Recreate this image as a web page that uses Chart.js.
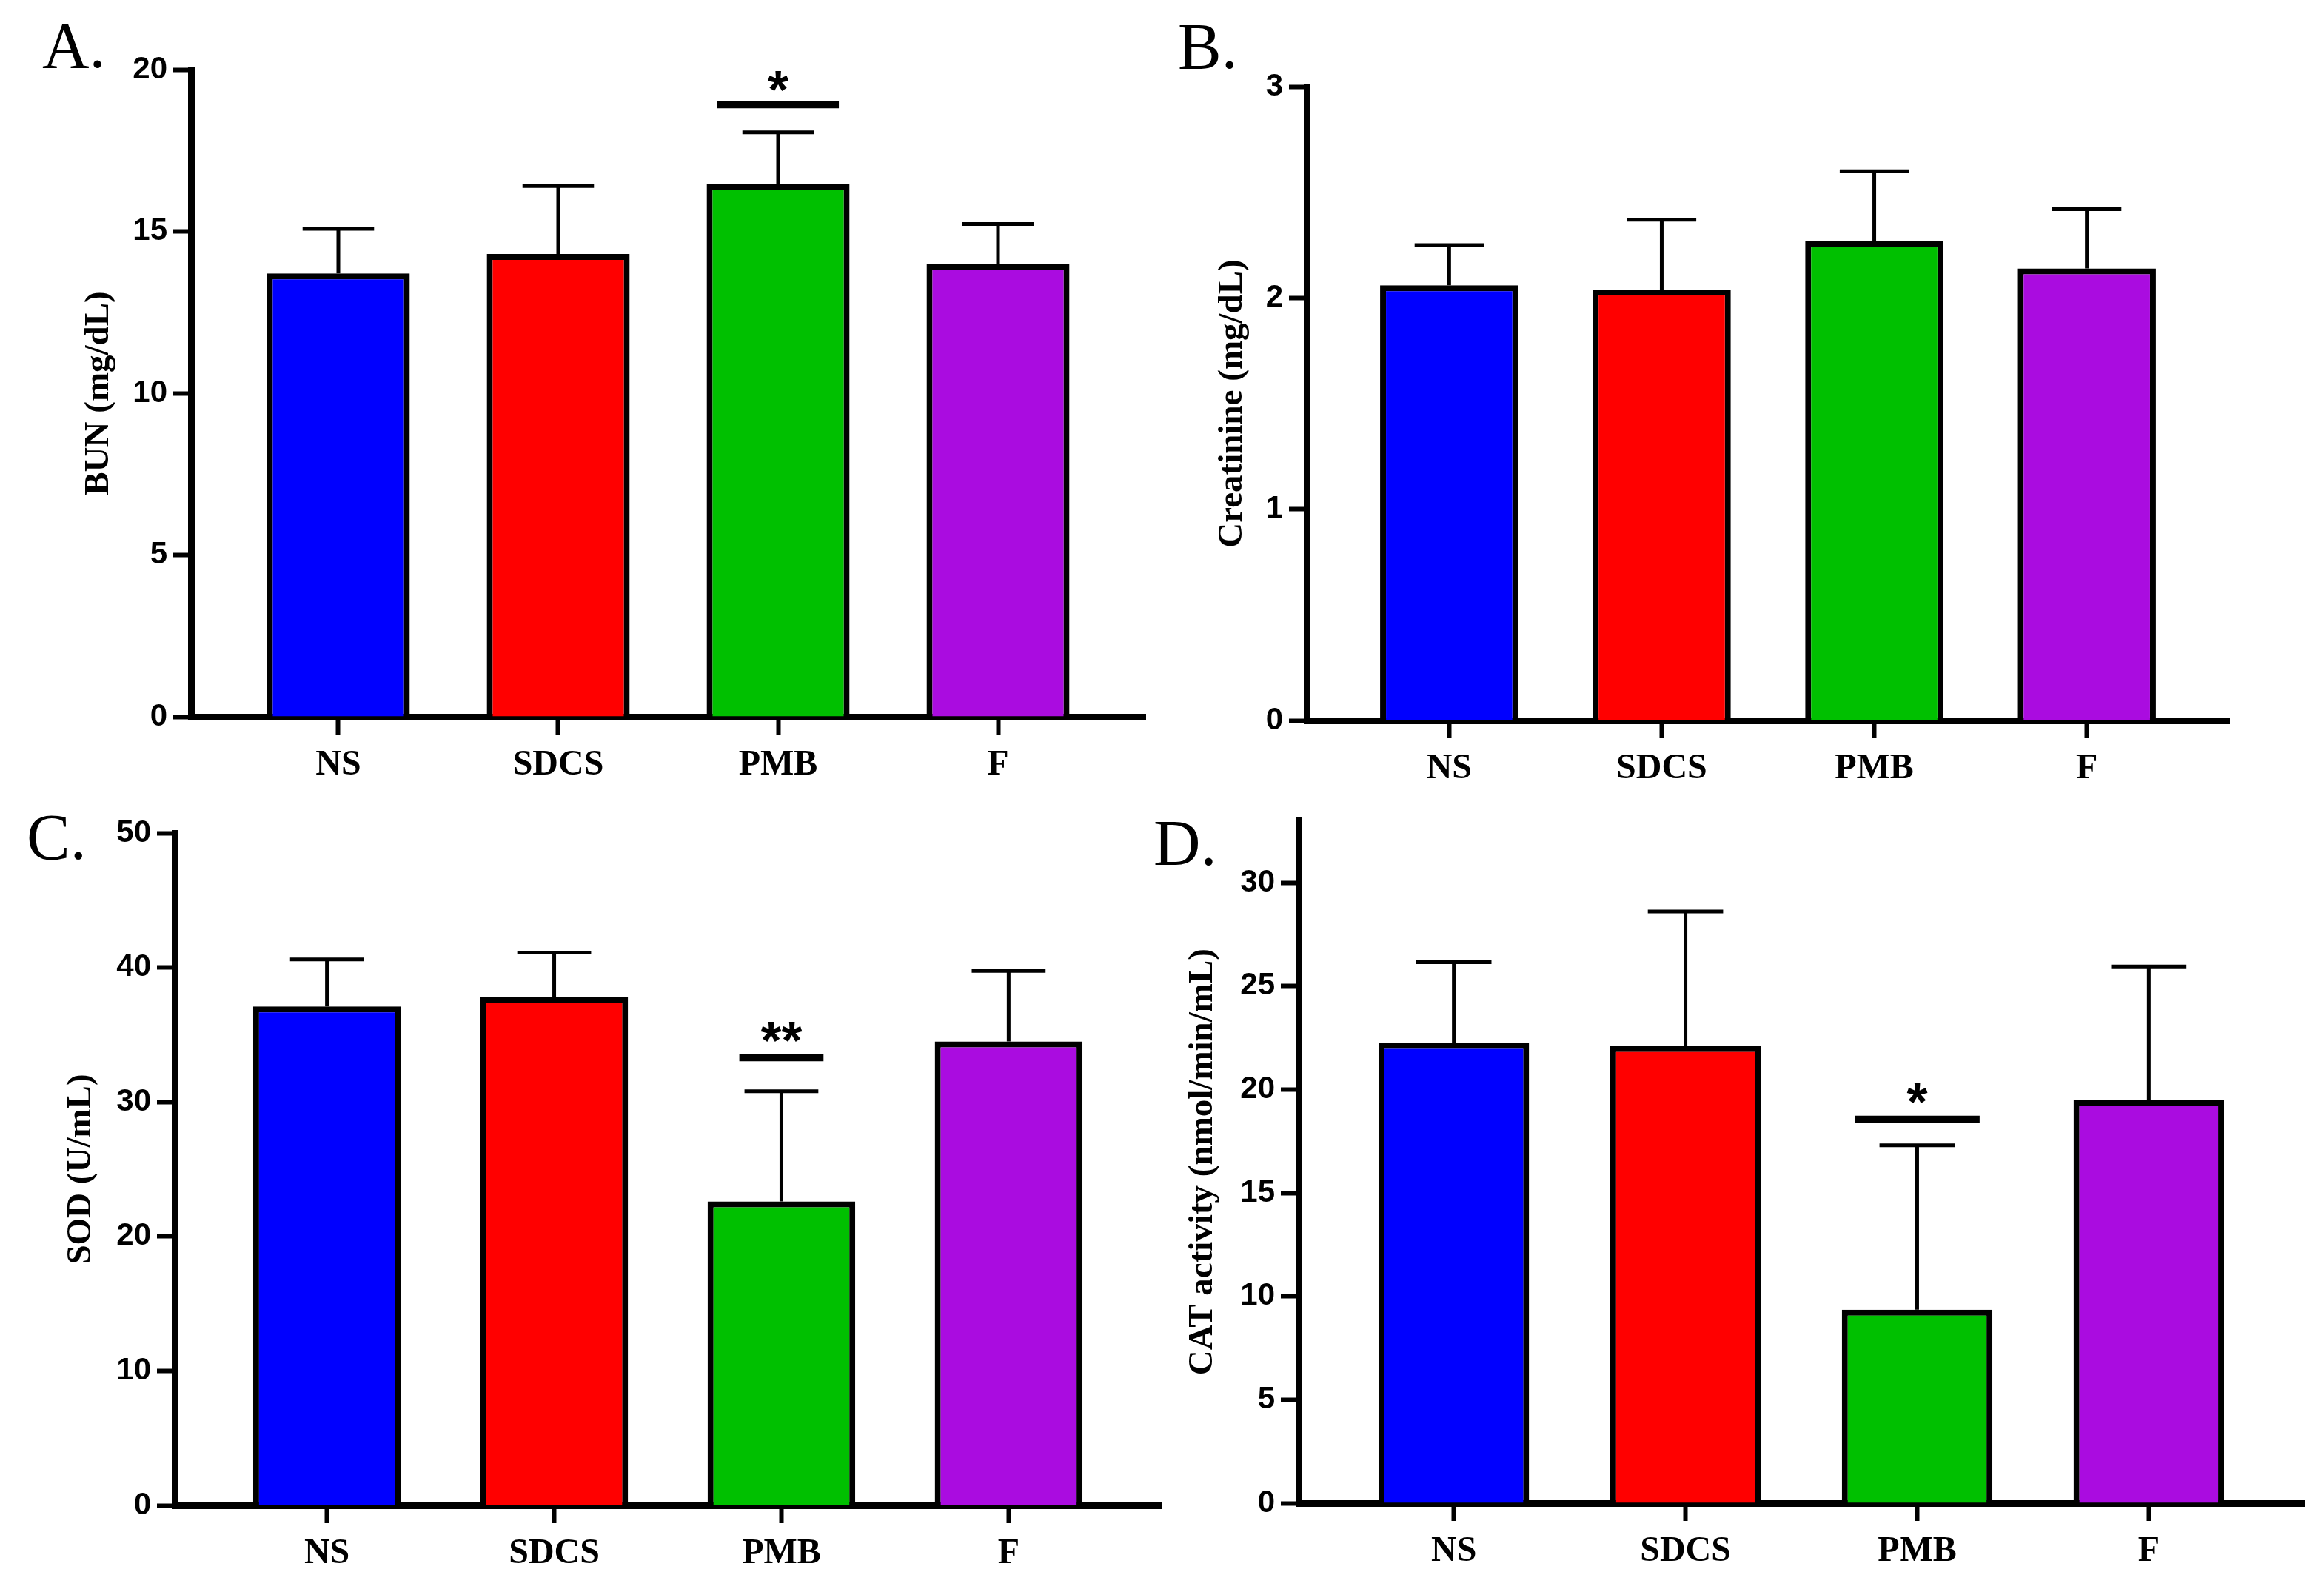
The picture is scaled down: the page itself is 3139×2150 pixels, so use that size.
<!DOCTYPE html>
<html>
<head>
<meta charset="utf-8">
<script src="https://cdn.jsdelivr.net/npm/chart.js@4.4.1/dist/chart.umd.min.js"></script>
<style>
    html, body { margin: 0; padding: 0; background: #fff; }
    #page { position: relative; width: 3139px; height: 2150px; overflow: hidden; background: #fff; }
    #page canvas { position: absolute; }
    .tag { position: absolute; font-family: "Liberation Serif", "Times New Roman", serif; font-size: 88px; line-height: 88px; color: #000; }
</style>
</head>
<body>
<div id="page">
    <canvas id="chartA" width="1570" height="1075" style="left:0;top:0"></canvas>
    <canvas id="chartB" width="1569" height="1075" style="left:1570px;top:0"></canvas>
    <canvas id="chartC" width="1570" height="1075" style="left:0;top:1075px"></canvas>
    <canvas id="chartD" width="1569" height="1075" style="left:1570px;top:1075px"></canvas>
    <div class="tag" style="left:57px;top:18px">A.</div>
    <div class="tag" style="left:1591px;top:19px">B.</div>
    <div class="tag" style="left:36px;top:1087px">C.</div>
    <div class="tag" style="left:1558px;top:1095px">D.</div>
</div>
<script>
// groups and colours shared by all four panels
const groups = ['NS', 'SDCS', 'PMB', 'F'];
const barColors = ['#0000FF', '#FF0000', '#00C000', '#AA0CE0'];

// A - BUN
const bunMean = [13.7, 14.3, 16.46, 14.0];
const bunSD = [1.38, 2.1, 1.6, 1.23];
const bunTicks = [0, 5, 10, 15, 20];
const bunSig = { index: 2, line: 18.92, star: 19.78, text: '*' };

// B - Creatinine
const creMean = [2.06, 2.04, 2.27, 2.14];
const creSD = [0.19, 0.33, 0.33, 0.28];
const creTicks = [0, 1, 2, 3];

// C - SOD
const sodMean = [37.1, 37.8, 22.6, 34.5];
const sodSD = [3.5, 3.3, 8.2, 5.25];
const sodTicks = [0, 10, 20, 30, 40, 50];
const sodSig = { index: 2, line: 33.3, star: 35.5, text: '**' };

// D - CAT activity
const catMean = [22.25, 22.1, 9.35, 19.5];
const catSD = [3.9, 6.5, 7.95, 6.45];
const catTicks = [0, 5, 10, 15, 20, 25, 30];
const catSig = { index: 2, line: 18.55, star: 20.0, text: '*' };

const sansFont = '"Liberation Sans", Arial, Helvetica, sans-serif';
const serifFont = '"Liberation Serif", "Times New Roman", serif';

// error bars (mean + SD, upper only) and significance marks
const errorBarPlugin = {
    id: 'errorBars',
    afterDatasetsDraw(chart, args, opts) {
        const { ctx, scales: { x, y } } = chart;
        const meta = chart.getDatasetMeta(0);
        ctx.save();
        ctx.strokeStyle = '#000';
        ctx.lineCap = 'butt';
        ctx.lineWidth = 5;
        opts.mean.forEach((m, i) => {
            const bar = meta.data[i];
            const cx = x.getPixelForValue(i);
            const yb = y.getPixelForValue(m);
            const yt = y.getPixelForValue(m + opts.sd[i]);
            const half = bar.width / 4;
            ctx.beginPath();
            ctx.moveTo(cx, yb); ctx.lineTo(cx, yt);
            ctx.moveTo(cx - half, yt); ctx.lineTo(cx + half, yt);
            ctx.stroke();
        });
        if (opts.sig) {
            const s = opts.sig;
            const bar = meta.data[s.index];
            const cx = x.getPixelForValue(s.index);
            const half = bar.width * opts.sigRatio / 2;
            const ly = y.getPixelForValue(s.line);
            ctx.lineWidth = 10;
            ctx.beginPath(); ctx.moveTo(cx - half, ly); ctx.lineTo(cx + half, ly); ctx.stroke();
            ctx.fillStyle = '#000';
            ctx.font = 'bold 72px ' + sansFont;
            ctx.textAlign = 'center';
            ctx.textBaseline = 'alphabetic';
            ctx.fillText(s.text, cx, y.getPixelForValue(s.star) + 42);
        }
        ctx.restore();
    }
};

function makeChart(id, p) {
    const canvas = document.getElementById(id);
    const W = canvas.width, H = canvas.height;
    return new Chart(canvas, {
        type: 'bar',
        data: {
            datasets: [{
                data: p.mean.map((v, i) => ({ x: i, y: v })),
                backgroundColor: barColors,
                borderColor: '#000',
                borderWidth: 8,
                borderSkipped: 'start',
                categoryPercentage: 1,
                barPercentage: 0.65
            }]
        },
        options: {
            responsive: false,
            animation: false,
            devicePixelRatio: 1,
            layout: { padding: { left: 0, top: p.area.top, right: W - p.area.right, bottom: 0 } },
            plugins: {
                legend: { display: false },
                tooltip: { enabled: false },
                errorBars: { mean: p.mean, sd: p.sd, sig: p.sig, sigRatio: p.sigRatio }
            },
            scales: {
                x: {
                    type: 'linear', min: -0.67, max: 3.67, offset: false,
                    afterFit: s => { s.height = H - p.area.bottom; },
                    afterBuildTicks: s => { s.ticks = groups.map((g, i) => ({ value: i })); },
                    ticks: { callback: v => groups[v], color: '#000', padding: 13, autoSkip: false, maxRotation: 0,
                             font: { family: serifFont, weight: 'bold', size: 48 } },
                    grid: { offset: false, drawOnChartArea: false, drawTicks: true, tickLength: 24, tickWidth: 6, tickColor: '#000' },
                    border: { display: true, color: '#000', width: 9 }
                },
                y: {
                    min: 0, max: p.max,
                    afterFit: s => { s.width = p.area.left; },
                    afterBuildTicks: s => { s.ticks = p.ticks.map(v => ({ value: v })); },
                    ticks: { color: '#000', padding: 8, autoSkip: false,
                             font: { family: sansFont, weight: 'bold', size: 42 } },
                    grid: { drawOnChartArea: false, drawTicks: true, tickLength: 24, tickWidth: 6, tickColor: '#000' },
                    border: { display: true, color: '#000', width: 9 },
                    title: { display: true, text: p.title, color: '#000',
                             font: { family: serifFont, weight: 'bold', size: 47 },
                             padding: { top: p.titleX - 28.2, bottom: 0 } }
                }
            }
        },
        plugins: [errorBarPlugin]
    });
}

makeChart('chartA', { mean: bunMean, sd: bunSD, ticks: bunTicks, max: 20, sig: bunSig, sigRatio: 0.85,
    title: 'BUN (mg/dL)', titleX: 134, area: { left: 258, top: 94, right: 1547, bottom: 968 } });
makeChart('chartB', { mean: creMean, sd: creSD, ticks: creTicks, max: 3, sig: null, sigRatio: 0,
    title: 'Creatinine (mg/dL)', titleX: 95, area: { left: 195, top: 117, right: 1441, bottom: 973 } });
makeChart('chartC', { mean: sodMean, sd: sodSD, ticks: sodTicks, max: 50, sig: sodSig, sigRatio: 0.57,
    title: 'SOD (U/mL)', titleX: 110, area: { left: 236, top: 50, right: 1568, bottom: 958 } });
makeChart('chartD', { mean: catMean, sd: catSD, ticks: catTicks, max: 33, sig: catSig, sigRatio: 0.83,
    title: 'CAT activity (nmol/min/mL)', titleX: 55, area: { left: 184, top: 25, right: 1542, bottom: 955 } });
</script>
</body>
</html>
